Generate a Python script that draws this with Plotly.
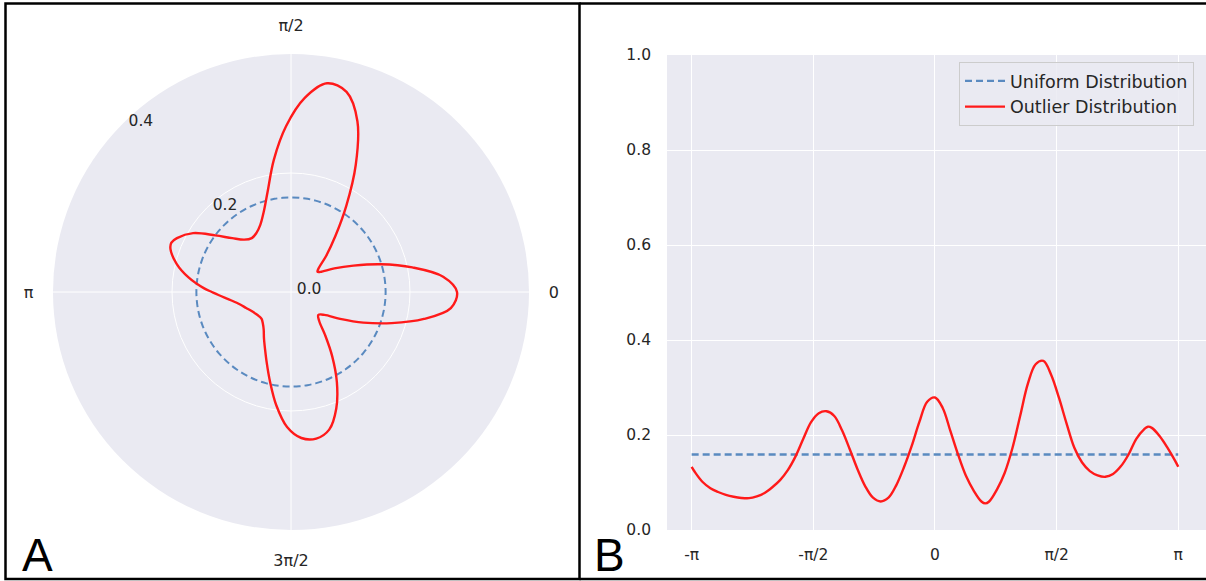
import math
import plotly.graph_objects as go

# ---- data ----
theta_rad = [-3.1416, -3.1, -3.0, -2.9, -2.8, -2.7, -2.6, -2.5, -2.4, -2.3,
             -2.2, -2.1, -2.0, -1.9, -1.8, -1.7, -1.6, -1.5, -1.4, -1.3,
             -1.2, -1.1, -1.0, -0.9, -0.8, -0.7, -0.6, -0.5, -0.4, -0.3,
             -0.2, -0.1, 0.0, 0.1, 0.2, 0.3, 0.4, 0.5, 0.6, 0.65,
             0.7, 0.8, 0.9, 1.0, 1.1, 1.2, 1.3, 1.4, 1.5, 1.6,
             1.7, 1.8, 1.9, 2.0, 2.1, 2.2, 2.3, 2.4, 2.5, 2.6,
             2.7, 2.75, 2.8, 2.9, 3.0, 3.1, 3.1416]
outlier_density = [0.133, 0.122, 0.101, 0.088, 0.080, 0.074, 0.070, 0.0675, 0.067, 0.071,
                   0.078, 0.090, 0.105, 0.126, 0.155, 0.192, 0.227, 0.246, 0.250, 0.240,
                   0.210, 0.170, 0.128, 0.092, 0.068, 0.060, 0.068, 0.094, 0.132, 0.177,
                   0.228, 0.270, 0.279, 0.257, 0.208, 0.158, 0.114, 0.083, 0.060, 0.056,
                   0.060, 0.085, 0.120, 0.172, 0.240, 0.308, 0.349, 0.356, 0.327, 0.279,
                   0.224, 0.173, 0.142, 0.124, 0.115, 0.112, 0.118, 0.134, 0.159, 0.192,
                   0.212, 0.2175, 0.215, 0.198, 0.174, 0.146, 0.133]
uniform_level = 0.159
circle_theta_deg = list(range(0, 361, 5))
uniform_polar_r = [uniform_level] * len(circle_theta_deg)
uniform_line_x = [-math.pi, math.pi]
uniform_line_y = [uniform_level, uniform_level]

polar_tickvals = [0, 90, 180, 270]
polar_ticktext = ["0", "π/2", "π", "3π/2"]
radial_tickvals = [0.0, 0.2, 0.4]
x_tickvals = [-math.pi, -math.pi / 2, 0, math.pi / 2, math.pi]
x_ticktext = ["-π", "-π/2", "0", "π/2", "π"]
y_tickvals = [0.0, 0.2, 0.4, 0.6, 0.8, 1.0]

W, H = 1206, 581
BG = "#EAEAF2"
TXT = "#262626"
RED = "#FF1A1A"
BLUE = "#5A8AC0"
FONT = "DejaVu Sans"

def px(x):
    return x / W

def py(y):
    return 1 - y / H

fig = go.Figure()

# polar panel
fig.add_trace(go.Scatterpolar(r=uniform_polar_r, theta=circle_theta_deg, mode="lines",
                              line=dict(color=BLUE, width=2, dash="7px,4px", shape="spline"),
                              showlegend=False, subplot="polar", hoverinfo="skip"))
fig.add_trace(go.Scatterpolar(r=outlier_density, theta=theta_rad, thetaunit="radians",
                              mode="lines", line=dict(color=RED, width=2.4, shape="spline"),
                              showlegend=False, subplot="polar"))

# cartesian panel
fig.add_trace(go.Scatter(x=uniform_line_x, y=uniform_line_y, mode="lines",
                         name="Uniform Distribution", legendgroup="u",
                         line=dict(color=BLUE, width=2.4, dash="7px,4px")))
fig.add_trace(go.Scatter(x=theta_rad, y=outlier_density, mode="lines",
                         name="Outlier Distribution", legendgroup="o",
                         line=dict(color=RED, width=2.4, shape="spline")))

fig.update_layout(
    width=W, height=H,
    margin=dict(l=0, r=0, t=0, b=0, pad=0, autoexpand=False),
    paper_bgcolor="white",
    plot_bgcolor=BG,
    font=dict(family=FONT, size=15, color=TXT),
    polar=dict(
        domain=dict(x=[px(53), px(529)], y=[py(530), py(54)]),
        bgcolor=BG,
        angularaxis=dict(
            tickmode="array", tickvals=polar_tickvals, ticktext=polar_ticktext,
            direction="counterclockwise", rotation=0,
            showgrid=True, gridcolor="white", gridwidth=1,
            showline=False, ticks="outside", ticklen=16, tickcolor="rgba(0,0,0,0)",
            tickfont=dict(size=16, color=TXT),
        ),
        radialaxis=dict(
            range=[0, 0.4], tickmode="array", tickvals=radial_tickvals,
            tickformat=".1f", angle=135, side="clockwise", tickangle=135,
            showgrid=True, gridcolor="white", gridwidth=1,
            showline=False, ticks="",
            tickfont=dict(size=15.5, color=TXT),
        ),
    ),
    xaxis=dict(
        domain=[px(667), 1.0], range=[-3.46, 3.50],
        tickmode="array", tickvals=x_tickvals, ticktext=x_ticktext,
        showgrid=True, gridcolor="white", gridwidth=1, zeroline=False,
        showline=False, ticks="", ticklabelstandoff=13, automargin=False,
        tickfont=dict(size=15.5, color=TXT),
    ),
    yaxis=dict(
        domain=[py(530), py(55)], range=[0, 1.0],
        tickmode="array", tickvals=y_tickvals, tickformat=".1f",
        showgrid=True, gridcolor="white", gridwidth=1, zeroline=False,
        showline=False, ticks="", ticklabelstandoff=15, automargin=False,
        tickfont=dict(size=15.5, color=TXT),
    ),
    legend=dict(
        x=px(1194), y=py(62), xanchor="right", yanchor="top",
        bgcolor="rgba(234,234,242,0.85)", bordercolor="#CCCCCC", borderwidth=1,
        font=dict(size=17.5, color=TXT), tracegroupgap=0, itemwidth=40,
    ),
    showlegend=True,
)

# panel borders
fig.add_shape(type="rect", xref="paper", yref="paper",
              x0=px(5.5), x1=px(579.5), y0=py(579), y1=py(3.5),
              line=dict(color="black", width=2.5), fillcolor="rgba(0,0,0,0)", layer="above")
fig.add_shape(type="line", xref="paper", yref="paper",
              x0=px(579.5), x1=px(1206), y0=py(3.5), y1=py(3.5),
              line=dict(color="black", width=2.5), layer="above")
fig.add_shape(type="line", xref="paper", yref="paper",
              x0=px(579.5), x1=px(1206), y0=py(579), y1=py(579),
              line=dict(color="black", width=2.5), layer="above")

# panel letters
fig.add_annotation(text="A", xref="paper", yref="paper", x=px(20), y=py(583),
                   xanchor="left", yanchor="bottom", showarrow=False,
                   font=dict(family="Liberation Sans", size=46, color="black"))
fig.add_annotation(text="B", xref="paper", yref="paper", x=px(592), y=py(583),
                   xanchor="left", yanchor="bottom", showarrow=False,
                   font=dict(family="Liberation Sans", size=46, color="black"))

fig.write_html(
    "out.html",
    config={"displayModeBar": False},
    post_script="document.body.style.margin='0';document.body.style.padding='0';"
                "document.body.style.overflow='hidden';"
                "document.documentElement.style.overflow='hidden';",
)
